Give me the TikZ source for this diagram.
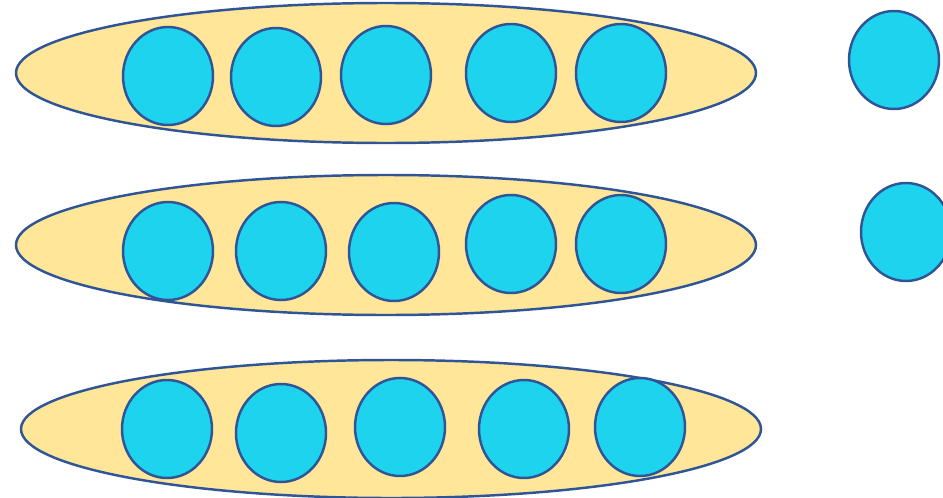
\documentclass[tikz,border=0pt]{standalone}
\definecolor{rim}{HTML}{2F5597}
\definecolor{gold}{HTML}{FFE699}
\definecolor{bead}{HTML}{1DD3EE}
\begin{document}
\begin{tikzpicture}[x=0.02cm,y=-0.02cm,
  group/.style={draw=rim,fill=gold,line width=1.4pt},
  dot/.style={draw=rim,fill=bead,line width=1.4pt}]
\useasboundingbox (0,0) rectangle (943,497);
\draw[group] (386,73) ellipse (370 and 70);
\draw[group] (386,245) ellipse (370 and 70);
\draw[group] (391,429) ellipse (370 and 69);
\draw[dot] (168,76) ellipse (45 and 49);
\draw[dot] (276,77) ellipse (45 and 49);
\draw[dot] (386,75) ellipse (45 and 49);
\draw[dot] (511,73) ellipse (45 and 49);
\draw[dot] (621,73) ellipse (45 and 49);
\draw[dot] (168,251) ellipse (45 and 49);
\draw[dot] (281,251) ellipse (45 and 49);
\draw[dot] (394,252) ellipse (45 and 49);
\draw[dot] (511,244) ellipse (45 and 49);
\draw[dot] (621,244) ellipse (45 and 49);
\draw[dot] (167,429) ellipse (45 and 49);
\draw[dot] (281,433) ellipse (45 and 49);
\draw[dot] (400,427) ellipse (45 and 49);
\draw[dot] (524,429) ellipse (45 and 49);
\draw[dot] (640,427) ellipse (45 and 49);
\draw[dot] (894,60) ellipse (45 and 49);
\draw[dot] (906,232) ellipse (45 and 49);
\end{tikzpicture}
\end{document}
